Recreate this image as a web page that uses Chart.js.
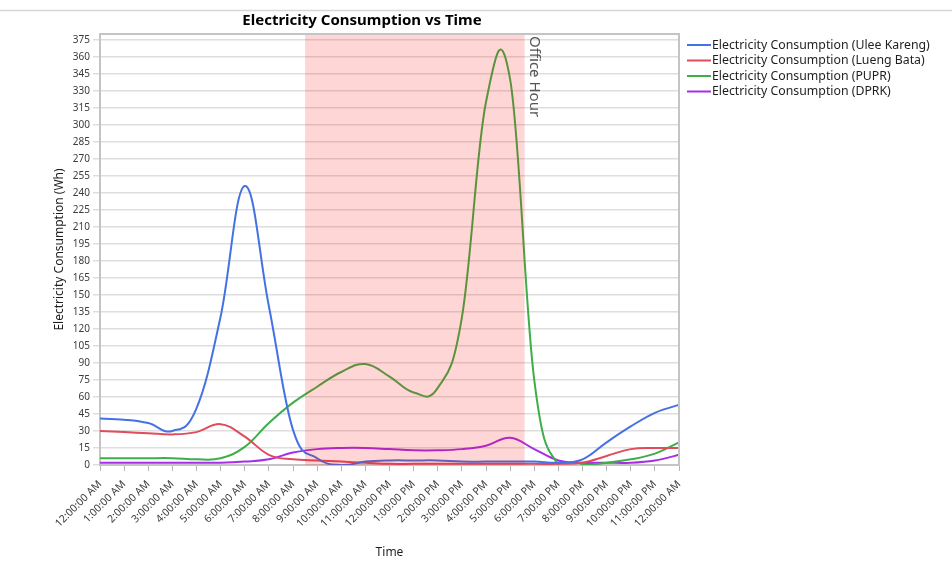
<!DOCTYPE html>
<html>
<head>
<meta charset="utf-8">
<title>Electricity Consumption vs Time</title>
<script src="https://cdn.jsdelivr.net/npm/chart.js@4/dist/chart.umd.min.js"></script>
<style>
    html, body { margin: 0; padding: 0; background: #ffffff; }
    #wrap { width: 952px; height: 561px; }
</style>
</head>
<body>
<div id="wrap"><canvas id="grafico"></canvas></div>
<script>
// Eixo X (horas)
const horas = [
    "12:00:00 AM", "1:00:00 AM", "2:00:00 AM", "3:00:00 AM", "4:00:00 AM", "5:00:00 AM",
    "6:00:00 AM", "7:00:00 AM", "8:00:00 AM", "9:00:00 AM", "10:00:00 AM", "11:00:00 AM",
    "12:00:00 PM", "1:00:00 PM", "2:00:00 PM", "3:00:00 PM", "4:00:00 PM", "5:00:00 PM",
    "6:00:00 PM", "7:00:00 PM", "8:00:00 PM", "9:00:00 PM", "10:00:00 PM", "11:00:00 PM",
    "12:00:00 AM"
];

// Consumo por local (Wh)
const uleeKareng = [41, 40, 37, 30, 50, 131, 246, 140, 31, 6, 0, 3, 4, 4, 4, 3, 3, 3, 3, 2, 5, 20, 34, 46, 53];
const luengBata  = [30, 29, 28, 27, 29, 36, 25, 9, 5, 4, 3, 2, 1, 1, 1, 1, 1, 1, 1, 1, 2, 8, 14, 15, 15];
const pupr       = [6, 6, 6, 6, 5, 6, 16, 37, 55, 69, 82, 89, 78, 64, 68, 130, 320, 340, 75, 0, 0, 2, 5, 10, 20];
const dprk       = [2, 2, 2, 2, 2, 2, 3, 5, 11, 14, 15, 15, 14, 13, 13, 14, 17, 24, 14, 4, 2, 2, 2, 4, 9];

const nomesSeries = [
    "Electricity Consumption (Ulee Kareng)",
    "Electricity Consumption (Lueng Bata)",
    "Electricity Consumption (PUPR)",
    "Electricity Consumption (DPRK)"
];
const coresSeries = ["#4471e3", "#e04c5c", "#3fae49", "#a52ee6"];

// Horario de escritorio (em horas, posicao no eixo)
const inicioExpediente = 8.5;
const fimExpediente = 17.6;

const fonte = "'Noto Sans', 'Open Sans', sans-serif";
const suavidade = 0.2;

// Linha cinza no topo
const linhaTopo = {
    id: 'linhaTopo',
    beforeDraw(chart) {
        const ctx = chart.ctx;
        ctx.save();
        ctx.strokeStyle = '#d6d6d6';
        ctx.lineWidth = 1.5;
        ctx.beginPath();
        ctx.moveTo(0, 10.5);
        ctx.lineTo(chart.width, 10.5);
        ctx.stroke();
        ctx.restore();
    }
};

// Curva spline uniforme (sem o peso por distancia do Chart.js)
const suavizar = {
    id: 'suavizar',
    beforeDatasetDraw(chart, args) {
        const meta = args.meta;
        meta.dataset.updateControlPoints(chart.chartArea, 'x');
        const pts = meta.data;
        const n = pts.length;
        for (let i = 0; i < n; i++) {
            const p = pts[i];
            const ant = pts[Math.max(i - 1, 0)];
            const prox = pts[Math.min(i + 1, n - 1)];
            const dx = prox.x - ant.x;
            const dy = prox.y - ant.y;
            p.cp1x = p.x - suavidade * dx;
            p.cp1y = p.y - suavidade * dy;
            p.cp2x = p.x + suavidade * dx;
            p.cp2y = p.y + suavidade * dy;
        }
    }
};

// Faixa do expediente + moldura
const faixaExpediente = {
    id: 'faixaExpediente',
    afterDatasetsDraw(chart) {
        const ctx = chart.ctx;
        const area = chart.chartArea;
        const x = chart.scales.x;
        const x1 = x.getPixelForValue(inicioExpediente);
        const x2 = x.getPixelForValue(fimExpediente);

        ctx.save();
        ctx.fillStyle = 'rgba(255, 0, 0, 0.16)';
        ctx.fillRect(x1, area.top, x2 - x1, area.bottom - area.top);

        // moldura superior e direita
        ctx.strokeStyle = '#c4c4c4';
        ctx.lineWidth = 2;
        ctx.beginPath();
        ctx.moveTo(area.left, area.top);
        ctx.lineTo(area.right, area.top);
        ctx.lineTo(area.right, area.bottom);
        ctx.stroke();

        // texto vertical
        ctx.translate(x2 + 10, area.top + 2);
        ctx.rotate(Math.PI / 2);
        ctx.fillStyle = '#555555';
        ctx.font = "15px " + fonte;
        ctx.textAlign = 'left';
        ctx.textBaseline = 'middle';
        ctx.fillText("Office Hour", 0, 0);
        ctx.restore();
    }
};

// Titulo e legenda desenhados a mao
const tituloLegenda = {
    id: 'tituloLegenda',
    afterDraw(chart) {
        const ctx = chart.ctx;
        ctx.save();
        ctx.fillStyle = '#000000';
        ctx.font = "bold 15px " + fonte;
        ctx.textAlign = 'center';
        ctx.textBaseline = 'middle';
        ctx.fillText("Electricity Consumption vs Time", 362, 21);

        ctx.font = "12.3px " + fonte;
        ctx.textAlign = 'left';
        nomesSeries.forEach((nome, i) => {
            const y = 45 + i * 15.5;
            ctx.strokeStyle = coresSeries[i];
            ctx.lineWidth = 2;
            ctx.beginPath();
            ctx.moveTo(687, y);
            ctx.lineTo(711, y);
            ctx.stroke();
            ctx.fillStyle = '#1e1e1e';
            ctx.fillText(nome, 712, y);
        });
        ctx.restore();
    }
};

const series = [uleeKareng, luengBata, pupr, dprk];

new Chart(document.getElementById('grafico'), {
    type: 'line',
    data: {
        labels: horas,
        datasets: series.map((valores, i) => ({
            label: nomesSeries[i],
            data: valores,
            borderColor: coresSeries[i],
            backgroundColor: coresSeries[i],
            borderWidth: 2,
            pointRadius: 0,
            tension: 0.4,
            fill: false
        }))
    },
    options: {
        responsive: true,
        maintainAspectRatio: false,
        animation: false,
        layout: { padding: { left: 0, right: 273, top: 34, bottom: 0 } },
        plugins: {
            legend: { display: false },
            title: { display: false },
            tooltip: { enabled: false }
        },
        scales: {
            x: {
                offset: false,
                grid: { drawOnChartArea: false, drawTicks: true, tickLength: 6, color: '#b4b4b4' },
                border: { color: '#c4c4c4', width: 2 },
                ticks: {
                    autoSkip: false,
                    maxRotation: 45,
                    minRotation: 45,
                    padding: 7,
                    color: '#3c3c3c',
                    font: { family: fonte, size: 10.5 }
                },
                title: {
                    display: true,
                    text: 'Time',
                    color: '#1e1e1e',
                    font: { family: fonte, size: 12 },
                    padding: { top: 0, bottom: 1 }
                },
                afterFit(scale) { scale.height = 96; }
            },
            y: {
                min: 0,
                max: 380,
                grid: { color: '#dedede', lineWidth: 1.5, tickLength: 7 },
                border: { color: '#c4c4c4', width: 2 },
                ticks: {
                    stepSize: 15,
                    includeBounds: false,
                    padding: 3,
                    color: '#3c3c3c',
                    font: { family: fonte, size: 10 }
                },
                title: {
                    display: true,
                    text: 'Electricity Consumption (Wh)',
                    color: '#1e1e1e',
                    font: { family: fonte, size: 12 },
                    padding: { top: 52, bottom: 0 }
                },
                afterFit(scale) { scale.width = 100; }
            }
        }
    },
    plugins: [linhaTopo, suavizar, faixaExpediente, tituloLegenda]
});
</script>
</body>
</html>
